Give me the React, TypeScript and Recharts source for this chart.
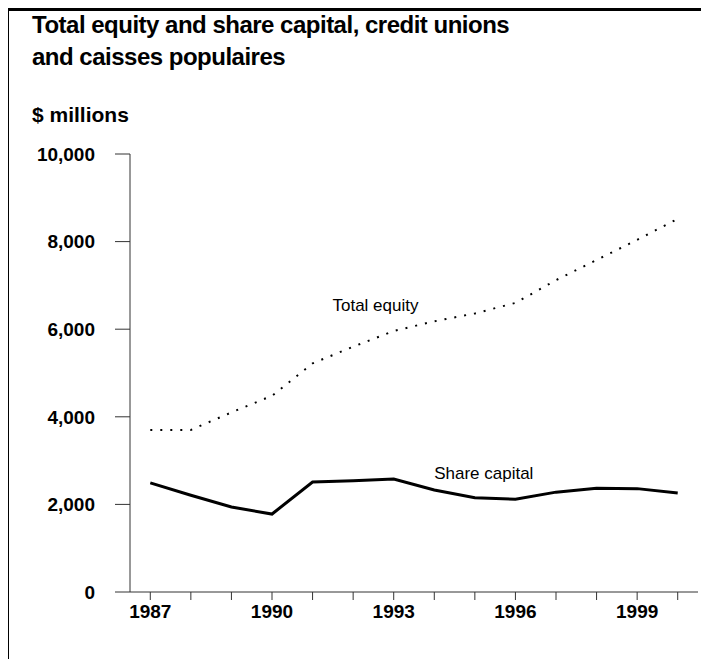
import React from "react"
import {
  LineChart,
  Line,
  XAxis,
  YAxis,
  ReferenceDot,
} from "recharts"

const years = [
  1987, 1988, 1989, 1990, 1991, 1992, 1993, 1994, 1995, 1996, 1997, 1998,
  1999, 2000,
]
const totalEquity = [
  3700, 3700, 4100, 4480, 5220, 5600, 5960, 6180, 6360, 6600, 7120, 7580,
  8040, 8520,
]
const shareCapital = [
  2490, 2210, 1940, 1780, 2510, 2540, 2580, 2330, 2150, 2120, 2280, 2370,
  2360, 2260,
]
const yTicks = [0, 2000, 4000, 6000, 8000, 10000]
const labelledYears = [1987, 1990, 1993, 1996, 1999]

// where the two series names sit, in data units
const seriesNotes = [
  { text: "Total equity", year: 1992.55, value: 6560, size: 17 },
  { text: "Share capital", year: 1995.22, value: 2720, size: 17 },
]

const data = years.map((year, i) => ({
  year,
  total: totalEquity[i],
  share: shareCapital[i],
}))

const font = '"Liberation Sans", Arial, Helvetica, sans-serif'
const tickStyle = {
  fontSize: 19,
  fontWeight: 700,
  fill: "#000",
  fontFamily: font,
}

const App = () => {
  return (
    <div
      style={{
        position: "relative",
        width: 701,
        height: 651,
        marginLeft: -2,
        borderLeft: "3px solid #000",
        borderTop: "3px solid #000",
        boxSizing: "border-box",
        background: "#fff",
        overflow: "hidden",
        fontFamily: font,
      }}
    >
      {/* inner content positioned relative to the page origin */}
      <div style={{ position: "absolute", left: -9, top: -11 }}>
        <div
          style={{
            position: "absolute",
            left: 32,
            top: 9,
            fontSize: 24,
            fontWeight: 700,
            lineHeight: "32px",
            letterSpacing: -0.5,
            color: "#000",
            whiteSpace: "nowrap",
          }}
        >
          Total equity and share capital, credit unions
          <br />
          and caisses populaires
        </div>
        <div
          style={{
            position: "absolute",
            left: 32,
            top: 103,
            fontSize: 21,
            fontWeight: 700,
            lineHeight: "24px",
            color: "#000",
            whiteSpace: "nowrap",
          }}
        >
          $ millions
        </div>
        <div style={{ position: "absolute", left: 0, top: 0 }}>
          <LineChart
            width={709}
            height={659}
            data={data}
            margin={{ top: 154, right: 11, bottom: 0, left: 0 }}
          >
            <XAxis
              dataKey="year"
              type="number"
              domain={[1986.5, 2000.5]}
              ticks={years}
              interval={0}
              tickFormatter={(v: number) =>
                labelledYears.includes(v) ? String(v) : ""
              }
              tickSize={8}
              tickMargin={5}
              axisLine={{ stroke: "#333", strokeWidth: 1 }}
              tickLine={{ stroke: "#333", strokeWidth: 1 }}
              tick={tickStyle}
              height={67}
            />
            <YAxis
              domain={[0, 10000]}
              ticks={yTicks}
              interval={0}
              width={130}
              tickSize={15}
              tickMargin={20}
              tickFormatter={(v: number) => v.toLocaleString("en-US")}
              axisLine={{ stroke: "#333", strokeWidth: 1 }}
              tickLine={{ stroke: "#333", strokeWidth: 1 }}
              tick={tickStyle}
            />
            <Line
              dataKey="total"
              type="linear"
              stroke="#000"
              strokeWidth={2}
              strokeDasharray="2 8"
              dot={false}
              isAnimationActive={false}
            />
            <Line
              dataKey="share"
              type="linear"
              stroke="#000"
              strokeWidth={3}
              dot={false}
              isAnimationActive={false}
            />
            {seriesNotes.map((n) => (
              <ReferenceDot
                key={n.text}
                x={n.year}
                y={n.value}
                r={0}
                fill="none"
                stroke="none"
                label={{
                  value: n.text,
                  position: "center",
                  fill: "#000",
                  fontSize: n.size,
                  fontFamily: font,
                }}
              />
            ))}
          </LineChart>
        </div>
      </div>
    </div>
  )
}

export default App
